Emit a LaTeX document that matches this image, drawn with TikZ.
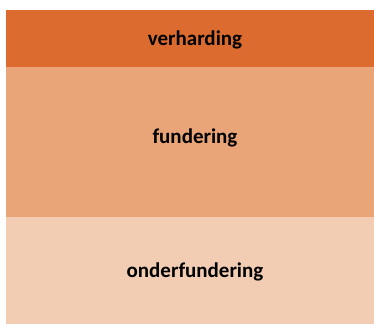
\documentclass[tikz,border=0pt]{standalone}
\usepackage{fontspec}
\setmainfont{Carlito}
\usepackage{tikz}
\usetikzlibrary{positioning}
\definecolor{lyrdark}{RGB}{220,107,48}
\definecolor{lyrmid}{RGB}{233,165,120}
\definecolor{lyrlight}{RGB}{242,205,180}
\tikzset{lyrlabel/.style={font=\fontsize{21}{24}\selectfont\bfseries, text=black}}

\begin{document}
\begin{tikzpicture}[x=1pt, y=-1pt]
\useasboundingbox (0,0) rectangle (374,324);
% Layers of the pavement
\fill[lyrdark] (6,10) rectangle (374,67);
\fill[lyrmid] (6,67) rectangle (374,217);
\fill[lyrlight] (6,217) rectangle (374,324);

% Labels
\node[lyrlabel] (verh) at (195,40) {verharding};
\node[lyrlabel] (fund) at (195,138) {fundering};
\node[lyrlabel] (ondf) at (195,272) {onderfundering};
\end{tikzpicture}
\end{document}
